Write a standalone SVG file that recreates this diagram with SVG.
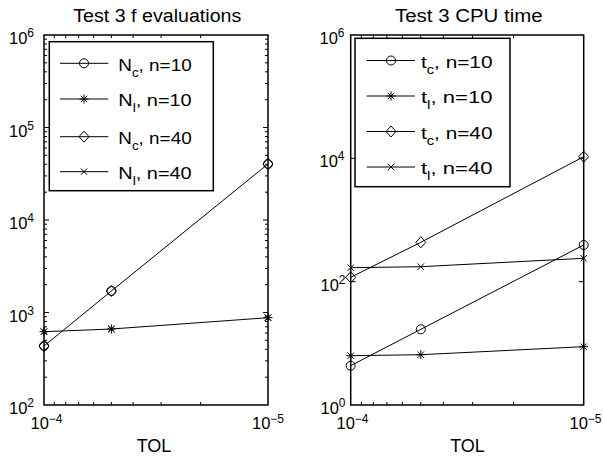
<svg xmlns="http://www.w3.org/2000/svg" xmlns:xlink="http://www.w3.org/1999/xlink" width="603" height="457" viewBox="0 0 603 457">
<style>
text{font-family:"Liberation Sans",Arial,Helvetica,sans-serif;fill:#000}
.ttl{font-size:18px}
.tick{font-size:16.5px}
.sup{font-size:12px}
.leg{font-size:17px}
.sub{font-size:12px}
.ax{fill:none;stroke:#000;stroke-width:1.5}
.tk{fill:none;stroke:#000;stroke-width:1}
.ln{fill:none;stroke:#000;stroke-width:1}
.box{fill:#fff;stroke:#000;stroke-width:1.5}
.mk{fill:none;stroke:#000;stroke-width:1}
</style>
<defs>
<g id="mc"><circle r="4.5" class="mk"/></g>
<g id="md"><path d="M0,-5.5 L5,0 L0,5.5 L-5,0 Z" class="mk"/></g>
<g id="ms"><path d="M-4.5,0 H4.5 M0,-4.5 V4.5 M-3.2,-3.2 L3.2,3.2 M-3.2,3.2 L3.2,-3.2" class="mk"/></g>
<g id="mx"><path d="M-3.2,-3.2 L3.2,3.2 M-3.2,3.2 L3.2,-3.2" class="mk"/></g>
</defs>

<!-- LEFT PLOT -->
<g id="left-plot">
<text class="ttl" x="73.3" y="21.7" textLength="168" lengthAdjust="spacingAndGlyphs">Test 3 f evaluations</text>
<rect class="ax" x="44" y="35" width="224" height="370"/>
<path class="tk" d="M44,312.5h5M44,220h5M44,127.5h5M268,312.5h-5M268,220h-5M268,127.5h-5
M44,377.2h3M44,360.9h3M44,349.3h3M44,340.3h3M44,333h3M44,326.8h3M44,321.5h3M44,316.7h3
M44,284.7h3M44,268.4h3M44,256.8h3M44,247.8h3M44,240.5h3M44,234.3h3M44,229h3M44,224.2h3
M44,192.2h3M44,175.9h3M44,164.3h3M44,155.3h3M44,148h3M44,141.8h3M44,136.5h3M44,131.7h3
M44,99.7h3M44,83.4h3M44,71.8h3M44,62.8h3M44,55.5h3M44,49.3h3M44,44h3M44,39.2h3
M268,377.2h-3M268,360.9h-3M268,349.3h-3M268,340.3h-3M268,333h-3M268,326.8h-3M268,321.5h-3M268,316.7h-3
M268,284.7h-3M268,268.4h-3M268,256.8h-3M268,247.8h-3M268,240.5h-3M268,234.3h-3M268,229h-3M268,224.2h-3
M268,192.2h-3M268,175.9h-3M268,164.3h-3M268,155.3h-3M268,148h-3M268,141.8h-3M268,136.5h-3M268,131.7h-3
M268,99.7h-3M268,83.4h-3M268,71.8h-3M268,62.8h-3M268,55.5h-3M268,49.3h-3M268,44h-3M268,39.2h-3
M54.3,405v-3M65.7,405v-3M78.7,405v-3M93.7,405v-3M111.4,405v-3M133.1,405v-3M161.1,405v-3M200.6,405v-3
M54.3,35v3M65.7,35v3M78.7,35v3M93.7,35v3M111.4,35v3M133.1,35v3M161.1,35v3M200.6,35v3"/>
<text class="tick" x="34" y="44" text-anchor="end">10<tspan class="sup" dy="-7">6</tspan></text>
<text class="tick" x="34" y="136.5" text-anchor="end">10<tspan class="sup" dy="-7">5</tspan></text>
<text class="tick" x="34" y="229" text-anchor="end">10<tspan class="sup" dy="-7">4</tspan></text>
<text class="tick" x="34" y="321.5" text-anchor="end">10<tspan class="sup" dy="-7">3</tspan></text>
<text class="tick" x="34" y="414" text-anchor="end">10<tspan class="sup" dy="-7">2</tspan></text>
<text class="tick" x="46.5" y="429" text-anchor="middle">10<tspan class="sup" dy="-6">−4</tspan></text>
<text class="tick" x="268" y="429" text-anchor="middle">10<tspan class="sup" dy="-6">−5</tspan></text>
<text class="ttl" x="154" y="451.7" text-anchor="middle">TOL</text>
</g>

<g id="left-series">
<polyline class="ln" points="44,346 111.4,291 268,164"/>
<polyline class="ln" points="44,331.7 111.4,329 268,317.7"/>
<use xlink:href="#mc" x="44" y="346"/><use xlink:href="#mc" x="111.4" y="291"/><use xlink:href="#mc" x="268" y="164"/>
<use xlink:href="#md" x="44" y="346"/><use xlink:href="#md" x="111.4" y="291"/><use xlink:href="#md" x="268" y="164"/>
<use xlink:href="#ms" x="44" y="331.7"/><use xlink:href="#ms" x="111.4" y="329"/><use xlink:href="#ms" x="268" y="317.7"/>
<use xlink:href="#mx" x="44" y="331.7"/><use xlink:href="#mx" x="111.4" y="329"/><use xlink:href="#mx" x="268" y="317.7"/>
</g>

<g id="left-legend">
<rect class="box" x="49.3" y="41.7" width="164" height="149"/>
<path class="ln" d="M60,63.3H108.3M60,99H108.3M60,136.7H108.3M60,171.7H108.3"/>
<use xlink:href="#mc" x="84" y="63.3"/>
<use xlink:href="#ms" x="84" y="99"/>
<use xlink:href="#md" x="84" y="136.7"/>
<use xlink:href="#mx" x="84" y="171.7"/>
<text class="leg" x="118.3" y="70.7" textLength="73.4" lengthAdjust="spacingAndGlyphs">N<tspan class="sub" dy="6">c</tspan><tspan dy="-6">, n=10</tspan></text>
<text class="leg" x="118.3" y="106.4" textLength="73.4" lengthAdjust="spacingAndGlyphs">N<tspan class="sub" dy="6">l</tspan><tspan dy="-6">, n=10</tspan></text>
<text class="leg" x="118.3" y="144.1" textLength="73.4" lengthAdjust="spacingAndGlyphs">N<tspan class="sub" dy="6">c</tspan><tspan dy="-6">, n=40</tspan></text>
<text class="leg" x="118.3" y="179.1" textLength="73.4" lengthAdjust="spacingAndGlyphs">N<tspan class="sub" dy="6">l</tspan><tspan dy="-6">, n=40</tspan></text>
</g>

<!-- RIGHT PLOT -->
<g id="right-plot">
<text class="ttl" x="395" y="21.7" textLength="147.7" lengthAdjust="spacingAndGlyphs">Test 3 CPU time</text>
<rect class="ax" x="350.7" y="35" width="233" height="370"/>
<path class="tk" d="M350.7,281.7h5M350.7,158.3h5M583.7,281.7h-5M583.7,158.3h-5
M361.4,405v-3M373.3,405v-3M386.8,405v-3M402.4,405v-3M420.8,405v-3M443.4,405v-3M472.6,405v-3M513.6,405v-3
M361.4,35v3M373.3,35v3M386.8,35v3M402.4,35v3M420.8,35v3M443.4,35v3M472.6,35v3M513.6,35v3"/>
<text class="tick" x="344.5" y="44" text-anchor="end">10<tspan class="sup" dy="-7">6</tspan></text>
<text class="tick" x="344.5" y="167.3" text-anchor="end">10<tspan class="sup" dy="-7">4</tspan></text>
<text class="tick" x="345.5" y="290.7" text-anchor="end">10<tspan class="sup" dy="-7">2</tspan></text>
<text class="tick" x="345.5" y="414" text-anchor="end">10<tspan class="sup" dy="-7">0</tspan></text>
<text class="tick" x="352.5" y="429" text-anchor="middle">10<tspan class="sup" dy="-6">−4</tspan></text>
<text class="tick" x="585.5" y="429" text-anchor="middle">10<tspan class="sup" dy="-6">−5</tspan></text>
<text class="ttl" x="467.5" y="451.7" text-anchor="middle">TOL</text>
</g>

<g id="right-series">
<polyline class="ln" points="350.7,365.7 420.8,329.3 583.7,245"/>
<polyline class="ln" points="350.7,355.7 420.8,354.7 583.7,346.7"/>
<polyline class="ln" points="350.7,277.3 420.8,242.3 583.7,156.7"/>
<polyline class="ln" points="350.7,267.7 420.8,266.7 583.7,258.3"/>
<use xlink:href="#mc" x="350.7" y="365.7"/><use xlink:href="#mc" x="420.8" y="329.3"/><use xlink:href="#mc" x="583.7" y="245"/>
<use xlink:href="#ms" x="350.7" y="355.7"/><use xlink:href="#ms" x="420.8" y="354.7"/><use xlink:href="#ms" x="583.7" y="346.7"/>
<use xlink:href="#md" x="350.7" y="277.3"/><use xlink:href="#md" x="420.8" y="242.3"/><use xlink:href="#md" x="583.7" y="156.7"/>
<use xlink:href="#mx" x="350.7" y="267.7"/><use xlink:href="#mx" x="420.8" y="266.7"/><use xlink:href="#mx" x="583.7" y="258.3"/>
</g>

<g id="right-legend">
<rect class="box" x="355" y="38.3" width="155" height="148.4"/>
<path class="ln" d="M366.7,60.5H415M366.7,96H415M366.7,131.5H415M366.7,167H415"/>
<use xlink:href="#mc" x="391" y="60.5"/>
<use xlink:href="#ms" x="391" y="96"/>
<use xlink:href="#md" x="391" y="131.5"/>
<use xlink:href="#mx" x="391" y="167"/>
<text class="leg" x="421" y="67.9" textLength="71.5" lengthAdjust="spacingAndGlyphs">t<tspan class="sub" dy="6">c</tspan><tspan dy="-6">, n=10</tspan></text>
<text class="leg" x="421" y="103.4" textLength="71.5" lengthAdjust="spacingAndGlyphs">t<tspan class="sub" dy="6">l</tspan><tspan dy="-6">, n=10</tspan></text>
<text class="leg" x="421" y="138.9" textLength="71.5" lengthAdjust="spacingAndGlyphs">t<tspan class="sub" dy="6">c</tspan><tspan dy="-6">, n=40</tspan></text>
<text class="leg" x="421" y="174.4" textLength="71.5" lengthAdjust="spacingAndGlyphs">t<tspan class="sub" dy="6">l</tspan><tspan dy="-6">, n=40</tspan></text>
</g>
</svg>
